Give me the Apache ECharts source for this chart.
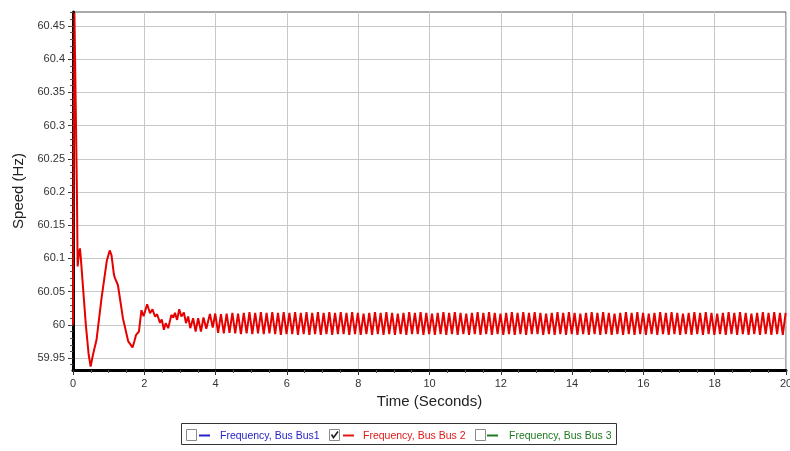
<!DOCTYPE html>
<html>
<head>
<meta charset="utf-8">
<script src="https://cdn.jsdelivr.net/npm/echarts@6/dist/echarts.min.js"></script>
<style>
html,body{margin:0;padding:0;background:#fff;}
#chart{width:790px;height:451px;}
</style>
</head>
<body>
<div id="chart"></div>
<script>
// ---- data ----
// transient part: explicit times (s) and speeds (Hz)
var transientTimes = [0, 0.01, 0.04, 0.075, 0.11, 0.13, 0.165, 0.195, 0.22, 0.36, 0.44, 0.495, 0.56, 0.66, 0.8, 0.95, 1.03, 1.08, 1.15, 1.18, 1.22, 1.26, 1.4, 1.55, 1.67, 1.72, 1.77, 1.8, 1.85, 1.92, 1.98, 2.08, 2.16, 2.23, 2.3, 2.36, 2.44, 2.49, 2.55, 2.6, 2.67, 2.76, 2.81, 2.86, 2.92, 2.98, 3.04, 3.11, 3.17, 3.23, 3.29, 3.37, 3.44, 3.51, 3.59, 3.66, 3.74, 3.84, 3.92, 3.99];
var transientSpeeds = [60.0, 60.0, 60.47, 60.47, 60.2, 60.088, 60.108, 60.115, 60.1, 60.0, 59.955, 59.937, 59.955, 59.9775, 60.04, 60.097, 60.112, 60.105, 60.075, 60.07, 60.073, 60.06, 60.01, 59.975, 59.966, 59.975, 59.985, 59.982, 59.99, 60.022, 60.013, 60.031, 60.0175, 60.0235, 60.0125, 60.016, 60.003, 60.008, 59.9925, 60.0025, 59.995, 60.015, 60.011, 60.018, 60.0075, 60.0235, 60.0125, 60.0185, 60.0025, 60.0125, 59.995, 60.01, 59.99, 60.01, 59.99, 60.011, 59.994, 60.0165, 59.996, 60.017];
// steady oscillation: successive trough/peak values, sampled every half period
var steadyStart = 4.07;      // s, time of first value
var steadyStep = 0.08;       // s, half period between extrema
var steadySpeeds = [
  59.988,60.016, 59.987,60.017, 59.988,60.018, 59.987,60.017, 59.986,60.018, 59.987,60.019, 59.986,60.018, 59.987,60.019, 59.986,60.018, 59.987,60.019,
  59.986,60.018, 59.985,60.019, 59.986,60.018, 59.986,60.019, 59.985,60.018, 59.986,60.019, 59.985,60.018, 59.986,60.019, 59.985,60.018, 59.986,60.019,
  59.985,60.018, 59.986,60.019, 59.986,60.018, 59.985,60.019, 59.986,60.018, 59.985,60.017, 59.986,60.018, 59.985,60.019, 59.986,60.018, 59.985,60.019,
  59.986,60.018, 59.985,60.017, 59.986,60.018, 59.985,60.019, 59.986,60.018, 59.986,60.019, 59.985,60.018, 59.986,60.017, 59.985,60.018, 59.986,60.019,
  59.985,60.018, 59.986,60.019, 59.985,60.018, 59.986,60.017, 59.985,60.018, 59.986,60.019, 59.985,60.018, 59.986,60.019, 59.985,60.018, 59.986,60.017,
  59.985,60.018, 59.986,60.019, 59.985,60.018, 59.986,60.019, 59.985,60.018, 59.986,60.019, 59.986,60.018, 59.985,60.017, 59.986,60.018, 59.985,60.019,
  59.986,60.018, 59.985,60.019, 59.986,60.018, 59.985,60.017, 59.986,60.018, 59.985,60.019, 59.986,60.018, 59.985,60.019, 59.986,60.018, 59.985,60.017,
  59.986,60.018, 59.985,60.019, 59.986,60.018, 59.985,60.019, 59.986,60.018, 59.985,60.017, 59.986,60.018, 59.985,60.019, 59.986,60.018, 59.985,60.019,
  59.986,60.018, 59.985,60.017, 59.986,60.018, 59.985,60.019, 59.986,60.018, 59.985,60.019, 59.986,60.018, 59.985,60.017, 59.986,60.018, 59.985,60.019,
  59.986,60.018, 59.985,60.019, 59.986,60.018, 59.985,60.017, 59.986,60.018, 59.985,60.019, 59.986,60.018, 59.985,60.019, 59.986,60.018, 59.985,60.018
];
var yTickValues = [59.95, 60, 60.05, 60.1, 60.15, 60.2, 60.25, 60.3, 60.35, 60.4, 60.45];
var xTickValues = [0, 2, 4, 6, 8, 10, 12, 14, 16, 18, 20];
var legendNames = ['Frequency, Bus Bus1', 'Frequency, Bus Bus 2', 'Frequency, Bus Bus 3'];
var legendColors = ['#2323c8', '#e01818', '#1e7a1e'];
var legendChecked = [false, true, false];

// ---- build series data ----
var bus2 = [];
for (var i = 0; i < transientTimes.length; i++) bus2.push([transientTimes[i], transientSpeeds[i]]);
for (var j = 0; j < steadySpeeds.length; j++) {
  var t = +(steadyStart + j * steadyStep).toFixed(3);
  if (t <= 20) bus2.push([t, steadySpeeds[j]]);
}
var yMinor = [];
for (var k = 0; k <= 53; k++) {
  var v = +(59.94 + k * 0.01).toFixed(2);
  if (v <= 60.47) yMinor.push(v);
}

var YMIN = 59.932, YMAX = 60.471;
var font = 'Arial, "Liberation Sans", sans-serif';

// ---- legend drawn as graphic ----
var legendEls = [{
  type: 'rect', shape: {x: 181.5, y: 423.5, width: 435, height: 21},
  style: {fill: '#fff', stroke: '#333', lineWidth: 1}
}];
var boxX = [186.5, 329.5, 475.5], lineX = [199, 343, 487], textX = [220, 363, 509];
for (var m = 0; m < 3; m++) {
  legendEls.push({type: 'rect', shape: {x: boxX[m], y: 429.5, width: 10, height: 11},
    style: {fill: '#fff', stroke: '#8a8a8a', lineWidth: 1}});
  if (legendChecked[m]) {
    legendEls.push({type: 'polyline', shape: {points: [[boxX[m] + 2, 434.5], [boxX[m] + 4, 437.5], [boxX[m] + 8.5, 431.5]]},
      style: {stroke: '#222', lineWidth: 1.6, fill: null}});
  }
  legendEls.push({type: 'line', shape: {x1: lineX[m], y1: 435.5, x2: lineX[m] + 11, y2: 435.5},
    style: {stroke: legendColors[m], lineWidth: 2}});
  legendEls.push({type: 'text', x: textX[m], y: 436,
    style: {text: legendNames[m], fill: legendColors[m], font: '10.5px ' + font, textVerticalAlign: 'middle'}});
}

var chart = echarts.init(document.getElementById('chart'), null, {renderer: 'canvas'});
chart.setOption({
  animation: false,
  backgroundColor: '#fff',
  grid: {left: 73, right: 4, top: 12, bottom: 81, show: true, borderColor: '#555', borderWidth: 1,
    containLabel: false, outerBoundsMode: 'none'},
  xAxis: {
    type: 'value', min: 0, max: 20, interval: 2,
    name: 'Time (Seconds)', nameLocation: 'middle', nameGap: 19,
    nameTextStyle: {fontSize: 15, color: '#222', fontFamily: font},
    axisLine: {show: true, lineStyle: {color: '#000', width: 3}},
    axisTick: {show: true, length: 5, lineStyle: {color: '#333'}},
    minorTick: {show: true, splitNumber: 4, length: 3, lineStyle: {color: '#555'}},
    axisLabel: {fontSize: 11, color: '#333', margin: 8, fontFamily: font},
    splitLine: {show: true, lineStyle: {color: '#c8c8c8', width: 1}}
  },
  yAxis: [{
    type: 'value', min: YMIN, max: YMAX,
    name: 'Speed (Hz)', nameLocation: 'middle', nameGap: 47,
    nameTextStyle: {fontSize: 15, color: '#222', fontFamily: font},
    axisLine: {show: true, lineStyle: {color: '#000', width: 3}},
    axisTick: {show: true, length: 5, customValues: yTickValues, lineStyle: {color: '#333'}},
    axisLabel: {fontSize: 11, color: '#333', margin: 8, fontFamily: font, customValues: yTickValues,
      formatter: function (v) { return String(+v.toFixed(2)); }},
    splitLine: {show: true, lineStyle: {color: '#c8c8c8', width: 1}}
  }, {
    type: 'value', min: YMIN, max: YMAX, position: 'left',
    axisLine: {show: false},
    axisTick: {show: true, length: 3, customValues: yMinor, lineStyle: {color: '#555'}},
    axisLabel: {show: false},
    splitLine: {show: false}
  }],
  series: [{
    name: 'Frequency, Bus Bus 2', type: 'line', data: bus2,
    showSymbol: false, symbol: 'none', smooth: false,
    lineStyle: {color: '#e60000', width: 2}, clip: true
  }],
  graphic: legendEls
});
</script>
</body>
</html>
